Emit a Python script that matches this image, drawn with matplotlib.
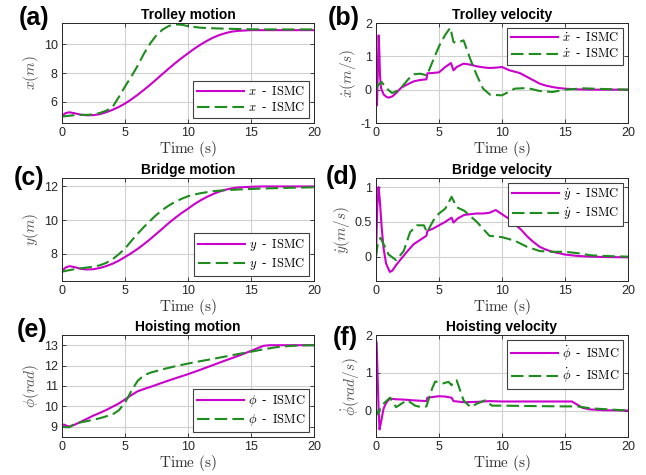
import numpy as np
import matplotlib
matplotlib.use('Agg')
import matplotlib.pyplot as plt

plt.rcParams['font.family'] = ['Liberation Sans', 'DejaVu Sans']
plt.rcParams['mathtext.fontset'] = 'cm'
plt.rcParams['axes.unicode_minus'] = False

# ---- data ----
# (a) trolley motion
ta_m = [0, 0.3, 0.6, 1.0, 1.5, 2.0, 2.5, 3, 3.5, 4, 4.5, 5, 5.5, 6, 6.5, 7, 7.5, 8, 8.5, 9, 9.5, 10,
        10.5, 11, 11.5, 12, 12.5, 13, 13.5, 14, 15, 16, 18, 20]
xa_m = [5.0, 5.2, 5.25, 5.18, 5.08, 5.04, 5.05, 5.12, 5.25, 5.42, 5.62, 5.86, 6.15, 6.47, 6.82, 7.18,
        7.56, 7.95, 8.33, 8.7, 9.05, 9.38, 9.7, 9.99, 10.25, 10.48, 10.66, 10.8, 10.9, 10.95, 11.0, 11.0,
        11.0, 11.0]
ta_g = [0, 0.5, 1, 1.5, 2, 2.5, 3, 3.5, 4, 4.5, 5, 5.5, 6, 6.5, 7, 7.5, 8, 8.5, 9, 9.5, 10, 11, 12,
        13, 14, 15, 16, 18, 20]
xa_g = [4.95, 5.0, 5.05, 5.07, 5.07, 5.1, 5.2, 5.36, 5.6, 6.3, 7.05, 7.75, 8.5, 9.35, 10.07, 10.65,
        11.05, 11.3, 11.4, 11.38, 11.28, 11.17, 11.13, 11.1, 11.08, 11.06, 11.05, 11.05, 11.05]

# (b) trolley velocity
tb_m = [0, 0.08, 0.14, 0.21, 0.26, 0.32, 0.4, 0.6, 0.8, 1.0, 1.3, 1.6, 2, 2.5, 3, 3.5, 4.0, 4.08,
        4.5, 5, 5.5, 5.95, 6.15, 6.4, 6.95, 7.5, 8, 8.5, 9, 9.5, 10, 10.6, 11, 11.4, 12, 12.5, 13,
        13.5, 14, 14.5, 15, 16, 17, 18, 20]
vb_m = [0, -0.47, 0.5, 1.63, 1.2, 0.4, 0.05, -0.14, -0.21, -0.24, -0.2, -0.1, 0.06, 0.16, 0.25,
        0.29, 0.31, 0.49, 0.5, 0.52, 0.68, 0.8, 0.58, 0.68, 0.78, 0.75, 0.7, 0.67, 0.65, 0.66, 0.68,
        0.58, 0.54, 0.5, 0.38, 0.28, 0.18, 0.12, 0.08, 0.05, 0.03, 0.01, 0.0, 0.0, 0.0]
tb_g = [0, 0.2, 0.45, 0.8, 1.27, 1.6, 2, 2.6, 3, 3.5, 4.04, 4.5, 5, 5.5, 5.9, 6.15, 6.4, 6.95,
        7.47, 8, 8.5, 9.05, 10, 11, 12, 13, 14, 15, 16.5, 18, 20]
vb_g = [0.03, 0.15, 0.23, 0.05, -0.1, -0.05, 0.06, 0.33, 0.46, 0.48, 0.43, 0.85, 1.3, 1.65, 1.86,
        1.43, 1.4, 1.48, 0.93, 0.43, 0.03, -0.15, -0.17, 0.03, 0.05, -0.04, -0.07, 0.0, 0.04, 0.02,
        0.0]

# (c) bridge motion
tc_m = [0, 0.3, 0.6, 1, 1.5, 2, 2.5, 3, 3.5, 4, 4.5, 5, 5.5, 6, 6.5, 7, 7.5, 8, 8.5, 9, 9.5, 10,
        10.5, 11, 11.5, 12, 12.5, 13, 13.5, 14, 15, 16, 18, 20]
yc_m = [7.0, 7.2, 7.28, 7.22, 7.12, 7.08, 7.1, 7.17, 7.28, 7.42, 7.6, 7.82, 8.05, 8.3, 8.58, 8.88,
        9.2, 9.52, 9.85, 10.15, 10.43, 10.68, 10.95, 11.18, 11.38, 11.55, 11.7, 11.81, 11.89, 11.94,
        11.98, 12.0, 12.0, 12.0]
tc_g = [0, 0.5, 1, 1.5, 2, 2.5, 3, 3.5, 4, 4.5, 5, 5.5, 6, 6.5, 7, 7.5, 8, 8.5, 9, 9.5, 10, 10.5,
        11, 11.5, 12, 13, 14, 15, 16, 18, 20]
yc_g = [6.95, 7.03, 7.1, 7.15, 7.2, 7.25, 7.33, 7.47, 7.68, 7.98, 8.32, 8.77, 9.2, 9.6, 9.97,
        10.32, 10.63, 10.88, 11.1, 11.27, 11.42, 11.52, 11.6, 11.66, 11.72, 11.78, 11.82, 11.85,
        11.88, 11.92, 11.95]

# (d) bridge velocity
td_m = [0, 0.1, 0.2, 0.3, 0.45, 0.6, 0.8, 1.1, 1.3, 1.6, 2, 2.5, 3, 3.5, 4.0, 4.08, 4.5, 5, 5.5,
        6.0, 6.15, 6.5, 7, 7.5, 8, 8.5, 9, 9.5, 10, 10.5, 11, 11.5, 12, 12.5, 13, 13.5, 14, 15, 16,
        17, 18, 20]
vd_m = [0.0, 0.7, 1.0, 0.82, 0.42, 0.12, -0.1, -0.22, -0.2, -0.12, -0.03, 0.08, 0.18, 0.24, 0.3,
        0.37, 0.4, 0.45, 0.5, 0.56, 0.49, 0.55, 0.6, 0.61, 0.62, 0.62, 0.63, 0.67, 0.61, 0.55, 0.47,
        0.39, 0.29, 0.21, 0.14, 0.1, 0.07, 0.03, 0.01, 0.0, -0.005, -0.01]
td_g = [0, 0.15, 0.35, 0.6, 1.0, 1.6, 2.2, 2.7, 3.25, 3.8, 4.05, 4.55, 5, 5.5, 6.0, 6.4, 7, 8, 9,
        10, 11, 12, 13, 14, 15, 16, 17, 18, 20]
vd_g = [0.0, 0.2, 0.27, 0.18, 0.03, -0.05, 0.08, 0.35, 0.45, 0.45, 0.35, 0.52, 0.62, 0.69, 0.86,
        0.71, 0.66, 0.5, 0.3, 0.28, 0.23, 0.14, 0.08, 0.07, 0.07, 0.05, 0.02, 0.01, 0.0]

# (e) hoisting motion
te_m = [0, 0.2, 0.4, 0.6, 1, 1.5, 2, 2.5, 3, 3.5, 4, 4.5, 5, 5.5, 6, 6.5, 7, 8, 9, 10, 11, 12, 13,
        14, 15, 15.5, 16, 16.5, 17, 18, 20]
pe_m = [9.1, 9.1, 9.04, 9.02, 9.1, 9.25, 9.4, 9.55, 9.68, 9.82, 9.98, 10.14, 10.34, 10.55, 10.74,
        10.85, 10.95, 11.17, 11.38, 11.58, 11.8, 12.03, 12.26, 12.48, 12.72, 12.85, 12.97, 13.0,
        13.0, 13.0, 13.0]
te_g = [0, 0.3, 0.6, 1, 1.5, 2, 3, 4, 4.5, 5, 5.5, 6, 6.5, 7, 8, 9, 10, 11, 12, 13, 14, 15, 16,
        17, 18, 19, 20]
pe_g = [9.0, 8.98, 8.98, 9.15, 9.22, 9.28, 9.42, 9.6, 9.8, 10.18, 10.75, 11.25, 11.52, 11.65,
        11.82, 11.97, 12.1, 12.22, 12.33, 12.45, 12.57, 12.68, 12.8, 12.9, 12.96, 12.99, 13.0]

# (f) hoisting velocity
tf_m = [0, 0.05, 0.12, 0.2, 0.28, 0.4, 0.6, 0.8, 1.1, 1.5, 2.2, 3, 4.0, 4.08, 5, 5.5, 6.0, 6.15,
        7, 8, 9, 10, 12, 14, 15.55, 16.4, 17, 17.5, 18, 20]
vf_m = [1.85, 1.8, 1.0, 0.1, -0.5, -0.3, 0.05, 0.2, 0.32, 0.3, 0.29, 0.27, 0.25, 0.34, 0.38, 0.37,
        0.34, 0.25, 0.22, 0.23, 0.25, 0.24, 0.24, 0.24, 0.24, 0.07, 0.03, 0.02, 0.01, 0.0]
tf_g = [0, 0.13, 0.5, 1.1, 1.6, 2.2, 2.5, 3.1, 3.6, 4.0, 4.45, 4.7, 5.35, 5.75, 6.0, 6.15, 6.4,
        6.95, 7.5, 8, 8.65, 9.2, 10, 12, 15, 16, 17, 18.5, 20]
vf_g = [0.05, -0.1, 0.15, 0.34, 0.09, 0.22, 0.27, 0.13, 0.09, 0.11, 0.58, 0.77, 0.72, 0.76, 0.67,
        0.77, 0.8, 0.27, 0.09, 0.18, 0.27, 0.13, 0.13, 0.12, 0.11, 0.11, 0.06, 0.03, 0.0]

magenta = '#cc00cc'
green = '#1e8c1e'

panels = [
    ('(a)', 'Trolley motion', r'$x(m)$', r'$x$', ta_m, xa_m, ta_g, xa_g, (4.5, 11.5), [6, 8, 10], 'lower right'),
    ('(b)', 'Trolley velocity', r'$\dot{x}(m/s)$', r'$\dot{x}$', tb_m, vb_m, tb_g, vb_g, (-1, 2), [-1, 0, 1, 2], 'upper right'),
    ('(c)', 'Bridge motion', r'$y(m)$', r'$y$', tc_m, yc_m, tc_g, yc_g, (6.4, 12.5), [8, 10, 12], 'lower right'),
    ('(d)', 'Bridge velocity', r'$\dot{y}(m/s)$', r'$\dot{y}$', td_m, vd_m, td_g, vd_g, (-0.35, 1.13), [0, 0.5, 1], 'upper right'),
    ('(e)', 'Hoisting motion', r'$\phi(rad)$', r'$\phi$', te_m, pe_m, te_g, pe_g, (8.5, 13.5), [9, 10, 11, 12, 13], 'lower right'),
    ('(f)', 'Hoisting velocity', r'$\dot{\phi}(rad/s)$', r'$\dot{\phi}$', tf_m, vf_m, tf_g, vf_g, (-0.7, 2), [0, 1, 2], 'upper right'),
]

# axes boxes in pixels (left, top, right, bottom) of a 646x475 figure
boxes = [(62, 23, 314, 123), (376, 23, 628, 123),
         (62, 178, 314, 281), (376, 178, 628, 281),
         (62, 335, 314, 437), (376, 335, 628, 437)]
letter_pos = [(34, 18), (344, 18), (29, 178), (342, 177), (32, 330), (345, 338)]

W, H = 646, 475
fig = plt.figure(figsize=(W / 100, H / 100), dpi=100)

for i, p in enumerate(panels):
    letter, title, ylab, sym, tm, ym, tg, yg, ylim, yticks, loc = p
    l, t, r, b = boxes[i]
    ax = fig.add_axes([l / W, 1 - b / H, (r - l) / W, (b - t) / H])
    lab = sym + '  -  ' + r'$\mathrm{ISMC}$'
    ax.plot(tm, ym, c=magenta, lw=1.5, label=lab)
    ax.plot(tg, yg, c=green, lw=1.5, ls=(0, (6, 2.5)), label=lab)
    ax.set_xlim(0, 20)
    ax.set_ylim(*ylim)
    ax.set_xticks([0, 5, 10, 15, 20])
    ax.set_yticks(yticks)
    ax.set_yticklabels([('%g' % v) for v in yticks])
    ax.tick_params(direction='in', length=3, width=0.6, labelsize=9, colors='#262626',
                   top=True, right=True, pad=3)
    ax.grid(True, color='#d0d0d0', lw=0.8)
    ax.set_axisbelow(True)
    for s in ax.spines.values():
        s.set_linewidth(0.7)
        s.set_color('#262626')
    ax.set_title(title, fontsize=10, fontweight='bold', pad=3)
    ax.set_xlabel(r'$\mathrm{Time\ (s)}$', fontsize=11, color='#333333', labelpad=0)
    ax.set_ylabel(ylab, fontsize=11, color='#555555', labelpad=2)
    leg = ax.legend(loc=loc, prop={'family': 'Liberation Serif', 'size': 9},
                    fancybox=False, framealpha=1, edgecolor='#404040', handlelength=3.8,
                    borderaxespad=0.4, labelspacing=0.25, handletextpad=0.3, borderpad=0.3)
    leg.get_frame().set_linewidth(0.8)
    fig.text(letter_pos[i][0] / W, 1 - letter_pos[i][1] / H, letter, fontsize=18,
             fontweight='bold', ha='center', va='center')

fig.savefig('out.png', dpi=100)
